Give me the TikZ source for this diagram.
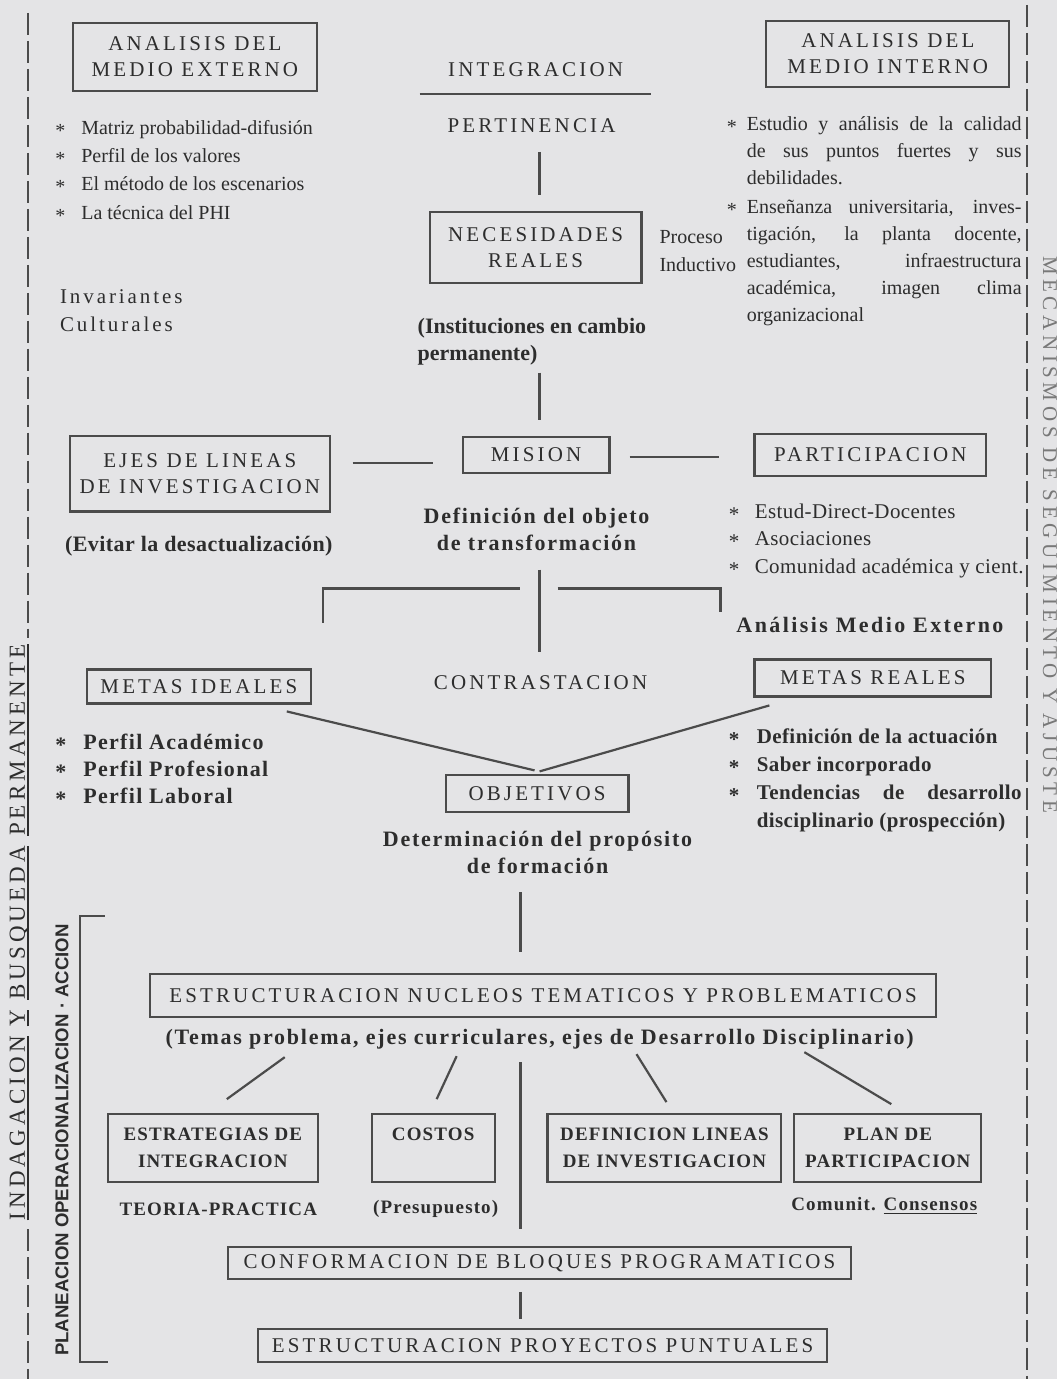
\documentclass[tikz,border=0pt]{standalone}
\usepackage{fontspec}
\setmainfont{Liberation Serif}
\newfontfamily\sansfont{Liberation Sans}
\usetikzlibrary{calc}
\definecolor{papel}{RGB}{228,228,230}
\definecolor{tinta}{RGB}{45,45,45}
\definecolor{trazo}{RGB}{75,75,75}
\definecolor{gris}{RGB}{120,120,120}
\newcommand{\punto}{\raisebox{-1.5pt}{*}}
\newcommand{\rayado}[1]{\leavevmode\setbox0\hbox{#1}\rlap{\rule[-2.2pt]{\wd0}{1pt}}\box0\relax}

\begin{document}
\begin{tikzpicture}[x=0.5pt,y=-0.5pt,
  caja/.style={draw=trazo,line width=1.1pt,inner sep=1pt},
  titulo/.style={font=\fontsize{10.5}{13}\selectfont\addfontfeature{LetterSpace=15},text=tinta,align=center},
  nota/.style={font=\bfseries\fontsize{11}{13.5}\selectfont\addfontfeature{LetterSpace=8},text=tinta,align=center},
  menor/.style={font=\bfseries\fontsize{9.5}{13.5}\selectfont\addfontfeature{LetterSpace=6},text=tinta,align=center},
  lista/.style={anchor=north west,inner sep=0pt,text=tinta},
  link/.style={draw=trazo,line width=1.1pt},
  borde/.style={draw=trazo,line width=1.1pt,dash pattern=on 11pt off 3pt}]

\fill[papel] (0,0) rectangle (1058,1380);

% margenes
\draw[borde] (28,13) -- (28,638);
\draw[borde] (28,1230) -- (28,1380);
\draw[borde] (1028,5) -- (1028,1380);
\node[rotate=90,anchor=base,text=tinta,font=\fontsize{11.5}{13}\selectfont\addfontfeature{LetterSpace=18}] (indag) at (25,933)
  {\rayado{INDAGACION} \rayado{Y} \rayado{BUSQUEDA} \rayado{PERMANENTE}};
\node[rotate=-90,anchor=base,text=gris,font=\fontsize{10.5}{12}\selectfont\addfontfeature{LetterSpace=22}] (mecan) at (1044,535)
  {MECANISMOS DE SEGUIMIENTO Y AJUSTE};
\node[rotate=90,text=tinta,font=\sansfont\bfseries\fontsize{9.3}{11}\selectfont] (planea) at (62,1141)
  {PLANEACION OPERACIONALIZACION · ACCION};
\draw[link] (105,917) -- (80,917) -- (80,1363) -- (108,1363);

% parte alta
\node[caja,titulo,minimum width=122pt,minimum height=34pt] (ext) at (195,57) {ANALISIS DEL\\MEDIO EXTERNO};
\node[caja,titulo,minimum width=121.5pt,minimum height=33pt] (int) at (888.5,54) {ANALISIS DEL\\MEDIO INTERNO};
\node[titulo] (integ) at (536,70) {INTEGRACION};
\node[titulo] (pert) at (532,126) {PERTINENCIA};
\node[caja,titulo,minimum width=106pt,minimum height=35.5pt] (nec) at (536,247.5) {NECESIDADES\\REALES};
\node[anchor=west,align=left,text=tinta,font=\fontsize{10}{14}\selectfont] (proc) at (653,251) {Proceso\\Inductivo};
\node[anchor=west,align=left,text=tinta,font=\fontsize{10.5}{14}\selectfont\addfontfeature{LetterSpace=14}] (invar) at (53,311) {Invariantes\\Culturales};
\node[anchor=west,align=left,text=tinta,font=\bfseries\fontsize{11}{13.5}\selectfont] (instit) at (411,341.5) {(Instituciones en cambio\\permanente)};

\node[lista,align=left,font=\fontsize{10}{14.2}\selectfont] (extlist) at (55,114)
  {\strut\makebox[13pt][l]{\punto}Matriz probabilidad-difusión\\
   \makebox[13pt][l]{\punto}Perfil de los valores\\
   \makebox[13pt][l]{\punto}El método de los escenarios\\
   \makebox[13pt][l]{\punto}La técnica del PHI};
\node[lista,text width=147.5pt,align=justify,font=\fontsize{10}{13.5}\selectfont] (intlist) at (727,111)
  {\parindent=0pt\strut\makebox[10pt][l]{\punto}\hangindent=10pt\hangafter=1 Estudio y análisis de la calidad\linebreak de sus puntos fuertes y sus\linebreak debilidades.\par\vspace{1pt}
   \makebox[10pt][l]{\punto}\hangindent=10pt\hangafter=1 Enseñanza universitaria, inves-\linebreak tigación, la planta docente,\linebreak estudiantes, infraestructura\linebreak académica, imagen clima\linebreak organizacional\par};

% mision
\node[caja,titulo,minimum width=130pt,minimum height=38pt] (ejes) at (200,474) {EJES DE LINEAS\\DE INVESTIGACION};
\node[caja,titulo,minimum width=73.5pt,minimum height=18pt] (mision) at (536.5,455) {MISION};
\node[caja,titulo,minimum width=116pt,minimum height=21pt] (partic) at (871,455) {PARTICIPACION};
\node[nota,font=\bfseries\fontsize{11}{13.5}\selectfont\addfontfeature{LetterSpace=2}] (evitar) at (199,547) {(Evitar la desactualización)};
\node[nota] (defobj) at (537,529.5) {Definición del objeto\\de transformación};
\node[lista,align=left,font=\fontsize{10.5}{13.75}\selectfont\addfontfeature{LetterSpace=2}] (partlist) at (729,499)
  {\strut\makebox[13pt][l]{\punto}Estud-Direct-Docentes\\
   \makebox[13pt][l]{\punto}Asociaciones\\
   \makebox[13pt][l]{\punto}Comunidad académica y cient.};
\node[nota,anchor=west,font=\bfseries\fontsize{11}{13.5}\selectfont\addfontfeature{LetterSpace=11}] (analext) at (730,625) {Análisis Medio Externo};

% metas
\node[caja,titulo,minimum width=112pt,minimum height=17pt] (metid) at (199,687) {METAS IDEALES};
\node[titulo] (contr) at (541,683) {CONTRASTACION};
\node[caja,titulo,minimum width=118.5pt,minimum height=18.5pt] (metre) at (873.5,678.5) {METAS REALES};
\node[lista,align=left,font=\bfseries\fontsize{11}{13.5}\selectfont\addfontfeature{LetterSpace=6}] (metidlist) at (55,731)
  {\strut\makebox[14pt][l]{\punto}Perfil Académico\\
   \makebox[14pt][l]{\punto}Perfil Profesional\\
   \makebox[14pt][l]{\punto}Perfil Laboral};
\node[lista,text width=146.5pt,align=justify,font=\bfseries\fontsize{10.5}{14}\selectfont\addfontfeature{LetterSpace=2}] (metrelist) at (729,724)
  {\parindent=0pt\strut\makebox[14pt][l]{\punto}Definición de la actuación\par
   \makebox[14pt][l]{\punto}Saber incorporado\par
   \makebox[14pt][l]{\punto}\hangindent=14pt\hangafter=1 Tendencias de desarrollo\linebreak disciplinario (prospección)\par};
\node[caja,titulo,minimum width=91.5pt,minimum height=18.5pt] (obj) at (537.5,794.5) {OBJETIVOS};
\node[nota] (detprop) at (538,853.5) {Determinación del propósito\\de formación};

% parte baja
\node[caja,titulo,minimum width=393.5pt,minimum height=21.5pt] (nucleos) at (543.5,996.5) {ESTRUCTURACION NUCLEOS TEMATICOS Y PROBLEMATICOS};
\node[nota] (temas) at (540,1040) {(Temas problema, ejes curriculares, ejes de Desarrollo Disciplinario)};
\node[caja,menor,minimum width=105pt,minimum height=34pt] (estrat) at (213,1149) {ESTRATEGIAS DE\\INTEGRACION};
\node[caja,menor,minimum width=61.5pt,minimum height=34pt] (costos) at (433.5,1149) {COSTOS\\\mbox{}};
\node[caja,menor,minimum width=117pt,minimum height=34pt] (deflin) at (665,1149) {DEFINICION LINEAS\\DE INVESTIGACION};
\node[caja,menor,minimum width=93.5pt,minimum height=34pt] (plan) at (888.5,1149) {PLAN DE\\PARTICIPACION};
\node[menor] (teoria) at (218.5,1210) {TEORIA-PRACTICA};
\node[menor] (presup) at (436,1210) {(Presupuesto)};
\node[menor] (comunit) at (885,1207) {Comunit. \underline{Consensos}};
\node[caja,titulo,minimum width=312pt,minimum height=16pt] (conform) at (540,1264) {CONFORMACION DE BLOQUES PROGRAMATICOS};
\node[caja,titulo,minimum width=285pt,minimum height=16.5pt] (proyect) at (543,1346.5) {ESTRUCTURACION PROYECTOS PUNTUALES};

% lineas
\draw[link] ($(integ)+(-116,24)$) -- ($(integ)+(116,24)$);
\draw[link] ($(pert)+(8,26)$) -- ($(nec)+(4,-52.5)$);
\draw[link] ($(nec)+(4,125.5)$) -- ($(mision)+(3.5,-35)$);
\draw[link] ($(ejes)+(153,-11)$) -- ($(mision)+(-103.5,8)$);
\draw[link] ($(mision)+(93.5,2)$) -- ($(partic)+(-151,2)$);
\draw[link] ($(defobj)+(3,40.5)$) -- ($(contr)+(-1,-30)$);
\draw[link] ($(defobj)+(-17,59.5)$) -| ($(defobj)+(-214,93.5)$);
\draw[link] ($(defobj)+(21,59.5)$) -| ($(analext.west)+(-9,-13)$);
\draw[link] ($(metid)+(88,25)$) -- ($(obj)+(-2.5,-23.5)$);
\draw[link] ($(metre)+(-103.5,27.5)$) -- ($(obj)+(2.5,-22.5)$);
\draw[link] ($(detprop)+(-17,39.5)$) -- ($(nucleos)+(-22.5,-43.5)$);
\draw[link] ($(temas)+(-255,18)$) -- ($(estrat)+(14,-49)$);
\draw[link] ($(temas)+(-83,17)$) -- ($(costos)+(3.5,-49)$);
\draw[link] ($(temas)+(-19,23)$) -- ($(conform)+(-19,-34)$);
\draw[link] ($(temas)+(97,15)$) -- ($(deflin)+(2,-46)$);
\draw[link] ($(temas)+(265,13)$) -- ($(plan)+(3.5,-44)$);
\draw[link] ($(conform)+(-19,29)$) -- ($(proyect)+(-22,-26.5)$);
\end{tikzpicture}
\end{document}
